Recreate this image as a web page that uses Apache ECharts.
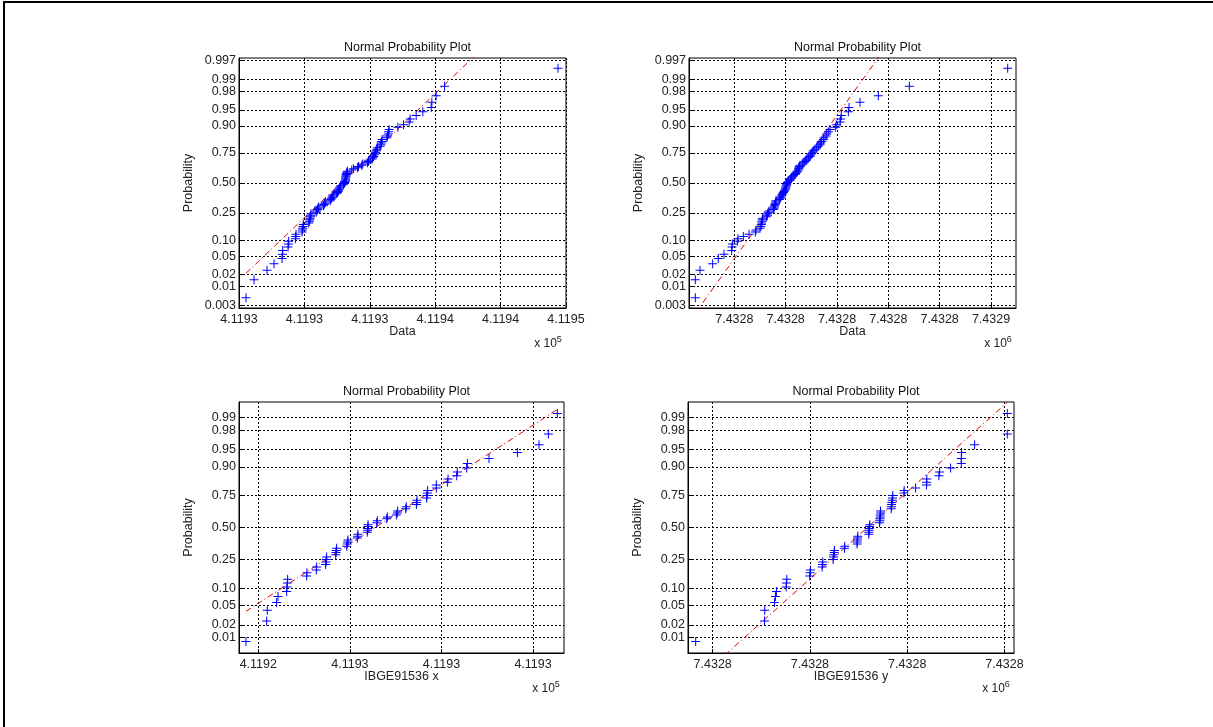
<!DOCTYPE html>
<html><head><meta charset="utf-8">
<script src="https://cdn.jsdelivr.net/npm/echarts@6/dist/echarts.min.js"></script>
<style>html,body{margin:0;padding:0;background:#fff}#c{width:1213px;height:727px}</style>
</head><body><div id="c"></div>
<script>
// ---- tick labels ----
const probTicksTop = [0.003,0.01,0.02,0.05,0.10,0.25,0.50,0.75,0.90,0.95,0.98,0.99,0.997];
const probLabelsTop = ['0.003','0.01','0.02','0.05','0.10','0.25','0.50','0.75','0.90','0.95','0.98','0.99','0.997'];
const probTicksBottom = [0.01,0.02,0.05,0.10,0.25,0.50,0.75,0.90,0.95,0.98,0.99];
const probLabelsBottom = ['0.01','0.02','0.05','0.10','0.25','0.50','0.75','0.90','0.95','0.98','0.99'];
const xLabels1 = ['4.1193','4.1193','4.1193','4.1194','4.1194','4.1195'];
const xLabels2 = ['7.4328','7.4328','7.4328','7.4328','7.4328','7.4329'];
const xLabels3 = ['4.1192','4.1193','4.1193','4.1193'];
const xLabels4 = ['7.4328','7.4328','7.4328','7.4328'];
const xRange1 = [0, 5];
const xRange2 = [-0.883, 5.487];
const xRange3 = [-0.211, 3.338];
const xRange4 = [-0.254, 3.098];
const titles = ['Normal Probability Plot','Normal Probability Plot','Normal Probability Plot','Normal Probability Plot'];
const xNames = ['Data','Data','IBGE91536 x','IBGE91536 y'];
const exponents = ['5','6','5','6'];

// ---- sorted data (x in units of the tick spacing, 0 = first labelled tick) ----
const data1 = [0.107,0.230,0.429,0.536,0.658,0.663,0.668,0.750,0.755,0.760,0.862,0.867,0.872,0.964,0.969,0.974,0.980,0.985,1.066,1.077,1.082,1.087,1.092,1.097,1.102,1.179,1.189,1.199,1.209,1.219,1.291,1.301,1.311,1.321,1.393,1.403,1.413,1.423,1.434,1.444,1.495,1.505,1.515,1.520,1.526,1.536,1.546,1.556,1.597,1.607,1.617,1.622,1.628,1.628,1.633,1.633,1.638,1.638,1.648,1.648,1.658,1.724,1.750,1.811,1.827,1.878,1.893,1.964,1.980,1.985,2.036,2.046,2.056,2.066,2.077,2.087,2.097,2.107,2.117,2.158,2.168,2.173,2.179,2.189,2.260,2.270,2.281,2.286,2.296,2.429,2.515,2.602,2.617,2.709,2.811,2.939,2.949,3.015,3.143,4.878];
const data2 = [-0.760,-0.760,-0.669,-0.422,-0.312,-0.201,-0.052,-0.045,-0.039,0.058,0.071,0.175,0.286,0.409,0.422,0.500,0.519,0.526,0.532,0.539,0.545,0.552,0.630,0.643,0.649,0.662,0.675,0.760,0.773,0.779,0.786,0.792,0.799,0.805,0.812,0.877,0.890,0.903,0.916,0.929,0.942,0.955,0.968,0.981,0.994,1.000,1.006,1.013,1.019,1.019,1.032,1.052,1.084,1.097,1.110,1.123,1.149,1.182,1.195,1.214,1.227,1.247,1.253,1.260,1.266,1.279,1.331,1.357,1.377,1.396,1.409,1.442,1.474,1.487,1.506,1.526,1.539,1.571,1.604,1.636,1.669,1.682,1.701,1.734,1.747,1.786,1.799,1.831,1.864,1.968,1.994,2.058,2.071,2.084,2.221,2.234,2.448,2.805,3.409,5.325];
const data3 = [-0.135,0.091,0.098,0.200,0.215,0.309,0.313,0.317,0.320,0.528,0.531,0.633,0.637,0.735,0.739,0.743,0.746,0.845,0.848,0.852,0.855,0.965,0.972,0.976,0.979,1.081,1.085,1.088,1.190,1.194,1.194,1.198,1.198,1.292,1.300,1.402,1.409,1.507,1.518,1.522,1.609,1.616,1.726,1.729,1.733,1.838,1.842,1.846,1.849,1.944,1.944,2.064,2.072,2.166,2.173,2.275,2.283,2.519,2.829,3.065,3.167,3.265];
const data4 = [-0.175,0.532,0.535,0.635,0.645,0.655,0.755,0.758,0.762,0.998,1.002,1.005,1.125,1.129,1.132,1.238,1.242,1.245,1.249,1.252,1.355,1.358,1.485,1.485,1.489,1.489,1.492,1.605,1.605,1.609,1.609,1.612,1.616,1.715,1.719,1.719,1.722,1.722,1.726,1.726,1.835,1.839,1.839,1.842,1.846,1.849,1.852,1.966,1.969,2.086,2.199,2.199,2.202,2.326,2.333,2.446,2.556,2.556,2.559,2.693,3.029,3.029];
// reference lines: [x, normal quantile] endpoints
const fit1 = [[0.107,-2.026],[4.878,4.627]];
const fit2 = [[-0.760,-2.922],[5.325,6.868]];
const fit3 = [[-0.135,-1.769],[3.265,2.492]];
const fit4 = [[-0.175,-3.245],[3.029,2.643]];

function norminv(p){
  const a=[-39.69683028665376,220.9460984245205,-275.9285104469687,138.3577518672690,-30.66479806614716,2.506628277459239];
  const b=[-54.47609879822406,161.5858368580409,-155.6989798598866,66.80131188771972,-13.28068155288572];
  const c=[-0.007784894002430293,-0.3223964580411365,-2.400758277161838,-2.549671010243312,4.374664141464968,2.938163982698783];
  const d=[0.007784695709041462,0.3224671290700398,2.445134137142996,3.754408661907416];
  const pl=0.02425, ph=1-pl; let q,r;
  if(p<pl){q=Math.sqrt(-2*Math.log(p));return (((((c[0]*q+c[1])*q+c[2])*q+c[3])*q+c[4])*q+c[5])/((((d[0]*q+d[1])*q+d[2])*q+d[3])*q+1);}
  if(p>ph){q=Math.sqrt(-2*Math.log(1-p));return -(((((c[0]*q+c[1])*q+c[2])*q+c[3])*q+c[4])*q+c[5])/((((d[0]*q+d[1])*q+d[2])*q+d[3])*q+1);}
  q=p-0.5;r=q*q;return (((((a[0]*r+a[1])*r+a[2])*r+a[3])*r+a[4])*r+a[5])*q/(((((b[0]*r+b[1])*r+b[2])*r+b[3])*r+b[4])*r+1);
}

const FONT = "'Liberation Sans', Arial, sans-serif";
const grids = [
  {left:239, top:58, width:327, height:250},
  {left:689, top:58, width:327, height:250},
  {left:239, top:402, width:325, height:251},
  {left:688, top:402, width:326, height:251}
];
const panels = [
  {data:data1, fit:fit1, xl:xLabels1, xr:xRange1, pt:probTicksTop, pl:probLabelsTop},
  {data:data2, fit:fit2, xl:xLabels2, xr:xRange2, pt:probTicksTop, pl:probLabelsTop},
  {data:data3, fit:fit3, xl:xLabels3, xr:xRange3, pt:probTicksBottom, pl:probLabelsBottom},
  {data:data4, fit:fit4, xl:xLabels4, xr:xRange4, pt:probTicksBottom, pl:probLabelsBottom}
];
const gridLine = {show:true, lineStyle:{color:'#000', width:1, type:[2,2]}};
const PLUS = 'path://M4,0 H5 V4 H9 V5 H5 V9 H4 V5 H0 V4 H4 Z';

const option = {
  backgroundColor:'#fff', animation:false,
  grid: grids.map(g => Object.assign({show:true, borderColor:'#000', borderWidth:1, backgroundColor:'#fff'}, g)),
  xAxis: panels.map((p,i) => {
    const ticks = p.xl.map((_,k)=>k);
    return {
      type:'value', gridIndex:i, min:p.xr[0], max:p.xr[1],
      axisLine:{show:true, onZero:false, lineStyle:{color:'#000'}},
      axisTick:{show:true, inside:true, length:4, customValues:ticks, lineStyle:{color:'#000'}},
      axisLabel:{customValues:ticks, margin:5, color:'#222', fontFamily:FONT, fontSize:12.5,
        formatter:v => p.xl[Math.round(v)]},
      splitLine:gridLine
    };
  }),
  yAxis: panels.map((p,i) => {
    const n = p.data.length;
    const zt = p.pt.map(norminv);
    return {
      type:'value', gridIndex:i, min:norminv(0.25/n), max:norminv(1-0.25/n),
      axisLine:{show:true, onZero:false, lineStyle:{color:'#000'}},
      axisTick:{show:true, inside:true, length:4, customValues:zt, lineStyle:{color:'#000'}},
      axisLabel:{customValues:zt, margin:3, color:'#222', fontFamily:FONT, fontSize:12.5,
        formatter:v => { let best=0; zt.forEach((z,k)=>{ if(Math.abs(z-v)<Math.abs(zt[best]-v)) best=k; }); return p.pl[best]; }},
      splitLine:gridLine
    };
  }),
  series: [],
  title: grids.map((g,i) => ({text:titles[i], left:g.left+g.width/2, top:g.top-22, textAlign:'center',
    textStyle:{fontFamily:FONT, fontSize:12.5, fontWeight:'normal', color:'#111'}})),
  graphic: []
};
panels.forEach((p,i) => {
  const n = p.data.length;
  option.series.push({type:'line', xAxisIndex:i, yAxisIndex:i, data:p.fit, symbol:'none', clip:true,
    lineStyle:{color:'#e00000', width:1, type:[6,3,1,3]}, silent:true, z:2});
  option.series.push({type:'scatter', xAxisIndex:i, yAxisIndex:i,
    data:p.data.map((x,k)=>[x, norminv((k+0.5)/n)]),
    symbol:PLUS, symbolSize:9, itemStyle:{color:'#0000ff', opacity:1}, z:3, silent:true});
});
const gr = [{type:'rect', shape:{x:4, y:2, width:1400, height:1000}, style:{fill:null, stroke:'#000', lineWidth:2}, silent:true}];
grids.forEach((g,i) => {
  const cx = g.left + g.width/2, bottom = g.top + g.height;
  gr.push({type:'text', x:cx, y:bottom+24, style:{text:xNames[i], fontFamily:FONT, fontSize:12.5, fill:'#222', align:'center', verticalAlign:'middle'}});
  gr.push({type:'text', x:g.left-50, y:g.top+g.height/2, rotation:Math.PI/2, style:{text:'Probability', fontFamily:FONT, fontSize:12.5, fill:'#222', align:'center', verticalAlign:'middle'}});
  gr.push({type:'text', x:g.left+g.width-18, y:bottom+36, style:{text:'x 10{s|'+exponents[i]+'}', fontFamily:FONT, fontSize:12, fill:'#222', align:'center', verticalAlign:'middle',
    rich:{s:{fontFamily:FONT, fontSize:9, fill:'#222', verticalAlign:'bottom', padding:[0,0,8,0]}}}});
});
option.graphic = gr;
const chart = echarts.init(document.getElementById('c'), null, {renderer:'canvas'});
chart.setOption(option);
</script></body></html>
